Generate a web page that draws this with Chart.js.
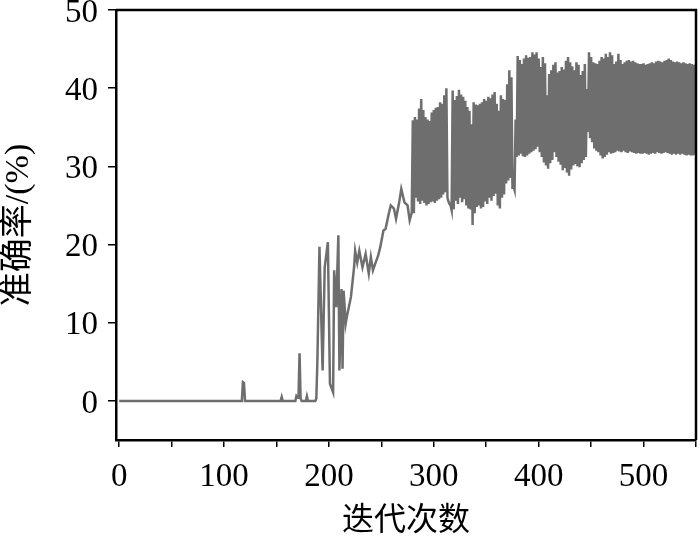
<!DOCTYPE html>
<html>
<head>
<meta charset="utf-8">
<script src="https://cdn.jsdelivr.net/npm/chart.js@4"></script>
<style>
html,body{margin:0;padding:0;background:#fff;}
#wrap{width:700px;height:536px;position:relative;}
</style>
</head>
<body>
<div id="wrap"><canvas id="c" width="700" height="536"></canvas></div>
<script>
// Early phase: iteration numbers and accuracy (%)
const earlyIter = [0,117,118,119,120,154,155,156,168,169,170,171,172,173,174,178,179,180,187,188,189,191,194,196,199,201,204,205,207,209,210,212,213,214,216,217,221,224,225,227,229,232,235,238,240,242,244,247,249,252,254,257,259,262,264,267,269,272,275,277,279];
const earlyAcc  = [0,0,2.4,2.3,0,0,0.5,0,0,0.6,0.4,0.4,6.1,0.3,0,0,0.6,0,0,0.3,5.0,19.7,3.9,17.1,20.3,2.2,1.1,16.7,12.0,21.2,3.9,14.3,4.1,14.1,9.9,10.7,13.3,17.1,19.2,17.7,19.2,17.1,18.8,16.3,18.4,16.7,17.5,18.6,19.7,21.8,22.0,23.9,25.0,24.6,23.3,25.4,27.1,25.4,25.0,23.1,24.1];

// Oscillating phase: every two iterations from 280 on, peak (upper) then trough (lower)
const denseStart = 280;
const upperAcc = [35.9,36.3,36.0,37.4,38.6,37.2,36.3,36.0,35.8,36.9,37.2,37.5,37.6,38.2,38.0,39.1,40.0,25.5,25.0,39.7,
38.5,39.0,39.8,39.2,38.9,38.4,37.6,37.1,35.4,38.2,37.9,37.8,38.0,38.2,38.6,38.4,38.9,38.7,39.2,39.5,
38.0,37.1,39.1,38.6,38.5,40.5,42.3,41.4,27.5,36.0,44.1,43.6,43.1,43.8,44.2,43.9,44.0,44.6,44.3,44.6,
43.8,42.7,44.0,43.2,39.1,41.8,42.3,43.0,43.3,42.0,42.2,42.7,42.4,43.5,44.0,43.3,42.8,42.3,43.3,43.0,
41.7,42.2,43.1,39.9,44.6,44.0,43.3,43.2,43.1,43.5,44.0,43.8,44.4,44.0,44.6,44.2,43.1,43.4,44.4,43.6,
43.1,43.3,43.5,43.6,43.4,43.5,43.3,43.2,43.1,43.1,43.2,43.0,43.1,43.2,43.3,43.2,43.4,43.5,43.4,43.3,
43.5,43.6,43.8,43.6,43.4,43.3,43.4,43.3,43.2,43.3,43.2,43.1,43.2,43.1,43.0,43.1];
const lowerAcc = [24.0,26.0,25.5,25.2,25.6,25.3,25.0,25.2,25.4,25.5,25.3,25.6,25.8,26.0,26.4,26.7,26.0,25.2,24.4,24.5,
25.6,25.2,26.0,25.4,25.8,25.0,24.6,24.5,22.5,24.0,24.8,25.0,24.6,24.8,25.5,25.2,26.0,25.6,26.2,26.5,
25.0,24.6,26.0,26.4,27.8,28.2,28.5,27.4,27.0,31.2,31.4,31.6,31.3,31.2,31.4,31.6,31.8,32.0,32.2,32.5,
31.8,31.2,30.5,30.1,29.7,30.4,30.8,31.8,31.2,30.6,30.2,29.5,29.8,29.2,28.8,29.6,30.1,30.3,30.0,29.9,
30.4,30.8,31.2,34.4,33.6,33.1,32.3,32.0,31.8,31.4,31.0,31.2,31.5,31.8,31.6,31.7,31.8,32.0,31.9,31.8,
32.0,31.8,31.7,31.9,31.8,31.7,31.6,31.7,31.6,31.6,31.7,31.6,31.5,31.6,31.7,31.6,31.8,31.7,31.6,31.7,
31.8,31.7,31.6,31.5,31.6,31.5,31.6,31.5,31.6,31.5,31.4,31.5,31.4,31.4,31.5,31.4];

const xTickLabels = ['0','100','200','300','400','500'];
const yTickLabels = ['0','10','20','30','40','50'];
const xTitle = '迭代次数';
const yTitle = '准确率/(%)';

const points = [];
for (let j = 0; j < earlyIter.length; j++) points.push({x: earlyIter[j], y: earlyAcc[j]});
for (let k = 0; k < upperAcc.length; k++) {
  points.push({x: denseStart + 2*k, y: upperAcc[k]});
  points.push({x: denseStart + 2*k + 1, y: lowerAcc[k]});
}

const serif = "'Liberation Serif', 'Times New Roman', 'Noto Sans CJK SC', serif";

const framePlugin = {
  id: 'frame',
  afterDraw(chart) {
    const a = chart.chartArea, ctx = chart.ctx;
    ctx.save();
    ctx.strokeStyle = '#000';
    ctx.lineWidth = 2.5;
    ctx.beginPath();
    ctx.moveTo(a.left, a.top);
    ctx.lineTo(a.right, a.top);
    ctx.lineTo(a.right, a.bottom);
    ctx.stroke();
    ctx.restore();
  }
};

new Chart(document.getElementById('c'), {
  type: 'line',
  data: {
    datasets: [{
      data: points,
      borderColor: '#6e6e6e',
      borderWidth: 2.5,
      pointRadius: 0,
      tension: 0,
      fill: false
    }]
  },
  options: {
    responsive: false,
    animation: false,
    layout: {padding: {top: 10, right: 4, left: 0, bottom: 0}},
    plugins: {legend: {display: false}, tooltip: {enabled: false}},
    scales: {
      x: {
        type: 'linear',
        min: -3, max: 550,
        afterFit(s) { s.height = 96; s.paddingLeft = 0; s.paddingRight = 0; },
        border: {display: true, color: '#000', width: 2.5},
        grid: {drawOnChartArea: false, drawTicks: true, tickLength: 7, color: '#000', lineWidth: 1.5},
        ticks: {
          stepSize: 50, includeBounds: false, autoSkip: false, maxRotation: 0,
          padding: 11, color: '#000', font: {family: serif, size: 33},
          callback(v) { const s = String(v); return xTickLabels.includes(s) ? s : ''; }
        },
        title: {display: true, text: xTitle, color: '#000', font: {family: serif, size: 32, lineHeight: 1}, padding: {top: 0, bottom: -2}}
      },
      y: {
        type: 'linear',
        min: -5, max: 50,
        afterFit(s) { s.width = 116; s.paddingTop = 0; s.paddingBottom = 0; },
        border: {display: true, color: '#000', width: 2.5},
        grid: {drawOnChartArea: false, drawTicks: true, tickLength: 8, color: '#000', lineWidth: 1.5},
        ticks: {
          stepSize: 10, includeBounds: false, autoSkip: false,
          padding: 10, labelOffset: 3, color: '#000', font: {family: serif, size: 33},
          callback(v) { const s = String(v); return yTickLabels.includes(s) ? s : ''; }
        },
        title: {display: true, text: yTitle, color: '#000', font: {family: serif, size: 34, lineHeight: 1}, padding: {top: 2, bottom: 0}}
      }
    }
  },
  plugins: [framePlugin]
});
</script>
</body>
</html>
